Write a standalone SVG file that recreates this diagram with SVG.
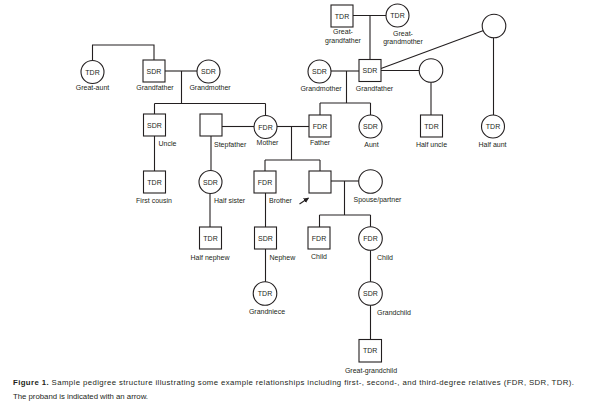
<svg xmlns="http://www.w3.org/2000/svg" width="594" height="406" viewBox="0 0 594 406">
<defs>
<style>
.n rect,.n circle{fill:#fff;stroke:#231f20;stroke-width:1.1}
.c path{fill:none;stroke:#231f20;stroke-width:1.1}
text{font-family:"Liberation Sans",Arial,sans-serif;font-size:7px;fill:#231f20}
.in{text-anchor:middle}
.m{text-anchor:middle}
.cap{font-size:7.8px}
</style>
<marker id="ah" viewBox="0 0 10 10" refX="9" refY="5" markerWidth="5" markerHeight="5" orient="auto">
<path d="M0,0 L10,5 L0,10 z" fill="#231f20"/>
</marker>
</defs>
<rect width="594" height="406" fill="#fff"/>
<g class="c" id="connectors">
<path d="M92.5,60.5 V45 H154 V60"/>
<path d="M165,71 H197"/>
<path d="M181.5,71 V103.5 M154.5,103.5 H265.5 M154.5,103.5 V114 M265.5,103.5 V115.5"/>
<path d="M154.5,136 V171"/>
<path d="M222,126.5 H254"/>
<path d="M211,136 V170.5"/>
<path d="M210,193.5 V227"/>
<path d="M277,126.5 H309"/>
<path d="M291.5,126.5 V160 M265,160 H320 M265,160 V171 M320,160 V171"/>
<path d="M265.5,193 V227"/>
<path d="M265.5,249 V282"/>
<path d="M331,71 H359"/>
<path d="M346.5,71 V103 M320,103 H370.5 M320,103 V115 M370.5,103 V115"/>
<path d="M353,15.5 H386"/>
<path d="M370,15.5 V59.5"/>
<path d="M381,70.5 H419.5"/>
<path d="M431,82 V115"/>
<path d="M381,68.5 L483.5,30.5"/>
<path d="M493.5,37.5 V115"/>
<path d="M331,181 H359"/>
<path d="M344.5,181 V215 M319.5,215 H370.5 M319.5,215 V227 M370.5,215 V227"/>
<path d="M370.5,250 V282"/>
<path d="M370.5,305 V339.5"/>
<path d="M299.5,204 L308.5,198" marker-end="url(#ah)"/>
</g>
<g class="n" id="great-aunt"><circle cx="92.5" cy="72" r="11.5"/><text class="in" x="92.5" y="74.5">TDR</text><text class="m" x="92.5" y="90">Great-aunt</text></g>
<g class="n" id="maternal-grandfather"><rect x="143" y="60" width="22" height="22"/><text class="in" x="154" y="73.5">SDR</text><text class="m" x="155" y="90">Grandfather</text></g>
<g class="n" id="maternal-grandmother"><circle cx="208.5" cy="71.5" r="11.5"/><text class="in" x="208.5" y="74">SDR</text><text class="m" x="210" y="90">Grandmother</text></g>
<g class="n" id="uncle"><rect x="143.5" y="114" width="22" height="22"/><text class="in" x="154.5" y="127.5">SDR</text><text x="158.5" y="146">Uncle</text></g>
<g class="n" id="stepfather"><rect x="200" y="114" width="22" height="22"/><text x="214" y="147">Stepfather</text></g>
<g class="n" id="mother"><circle cx="265.5" cy="127" r="11.5"/><text class="in" x="265.5" y="129.5">FDR</text><text class="m" x="267.5" y="145">Mother</text></g>
<g class="n" id="father"><rect x="309" y="115" width="22" height="22"/><text class="in" x="320" y="128.5">FDR</text><text class="m" x="320" y="145">Father</text></g>
<g class="n" id="aunt"><circle cx="370.5" cy="126.5" r="11.5"/><text class="in" x="370.5" y="129">SDR</text><text class="m" x="371.5" y="146.5">Aunt</text></g>
<g class="n" id="half-uncle"><rect x="420.5" y="115" width="22" height="22"/><text class="in" x="431.5" y="128.5">TDR</text><text class="m" x="431.5" y="146.5">Half uncle</text></g>
<g class="n" id="half-aunt"><circle cx="493" cy="126.5" r="11.5"/><text class="in" x="493" y="129">TDR</text><text class="m" x="492.5" y="146.5">Half aunt</text></g>
<g class="n" id="paternal-grandmother"><circle cx="319.5" cy="71.5" r="11.5"/><text class="in" x="319.5" y="74">SDR</text><text class="m" x="321" y="91">Grandmother</text></g>
<g class="n" id="paternal-grandfather"><rect x="359" y="59.5" width="22" height="22"/><text class="in" x="370" y="73">SDR</text><text class="m" x="374.5" y="91">Grandfather</text></g>
<g class="n" id="great-grandfather"><rect x="331" y="5" width="22" height="22"/><text class="in" x="342" y="18.5">TDR</text><text class="m" x="343" y="34">Great-</text><text class="m" x="343" y="43">grandfather</text></g>
<g class="n" id="great-grandmother"><circle cx="397.5" cy="15.5" r="11.5"/><text class="in" x="397.5" y="18">TDR</text><text class="m" x="403" y="35.5">Great-</text><text class="m" x="403" y="44">grandmother</text></g>
<g class="n" id="grandfather-partner-2"><circle cx="431" cy="70.5" r="11.8"/></g>
<g class="n" id="grandfather-partner-3"><circle cx="494" cy="26" r="11.8"/></g>
<g class="n" id="first-cousin"><rect x="143.5" y="171" width="22" height="22"/><text class="in" x="154.5" y="184.5">TDR</text><text class="m" x="154" y="203">First cousin</text></g>
<g class="n" id="half-sister"><circle cx="210.5" cy="182" r="11.5"/><text class="in" x="210.5" y="184.5">SDR</text><text x="214" y="203">Half sister</text></g>
<g class="n" id="brother"><rect x="254" y="171" width="22" height="22"/><text class="in" x="265" y="184.5">FDR</text><text x="269" y="203">Brother</text></g>
<g class="n" id="proband"><rect x="309" y="171" width="22" height="22"/></g>
<g class="n" id="spouse"><circle cx="370.5" cy="181.5" r="11.8"/><text x="353.5" y="202">Spouse/partner</text></g>
<g class="n" id="half-nephew"><rect x="199.5" y="227" width="22" height="22"/><text class="in" x="210.5" y="240.5">TDR</text><text class="m" x="210" y="259.5">Half nephew</text></g>
<g class="n" id="nephew"><rect x="254.5" y="227" width="22" height="22"/><text class="in" x="265.5" y="240.5">SDR</text><text x="269.5" y="259.5">Nephew</text></g>
<g class="n" id="child-son"><rect x="308" y="227" width="22" height="22"/><text class="in" x="319" y="240.5">FDR</text><text class="m" x="319" y="258.5">Child</text></g>
<g class="n" id="child-daughter"><circle cx="370.5" cy="238.5" r="11.8"/><text class="in" x="370.5" y="241">FDR</text><text x="377" y="259.5">Child</text></g>
<g class="n" id="grandniece"><circle cx="265" cy="293.5" r="11.8"/><text class="in" x="265" y="296">TDR</text><text class="m" x="267" y="314">Grandniece</text></g>
<g class="n" id="grandchild"><circle cx="370.5" cy="293.5" r="11.8"/><text class="in" x="370.5" y="296">SDR</text><text x="377" y="315">Grandchild</text></g>
<g class="n" id="great-grandchild"><rect x="359" y="339.5" width="22.5" height="22.5"/><text class="in" x="370.2" y="353.3">TDR</text><text class="m" x="371" y="373">Great-grandchild</text></g>
<g id="caption">
<text class="cap" x="13" y="385" textLength="561" lengthAdjust="spacing"><tspan font-weight="bold">Figure 1.</tspan>  Sample pedigree structure illustrating some example relationships including first-, second-, and third-degree relatives (FDR, SDR, TDR).</text>
<text class="cap" x="13" y="398.5" textLength="135" lengthAdjust="spacing">The proband is indicated with an arrow.</text>
</g>
</svg>
